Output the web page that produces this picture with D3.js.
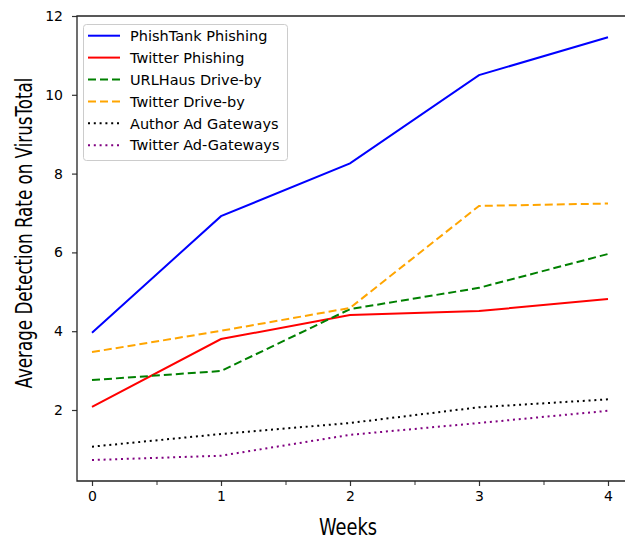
<!DOCTYPE html>
<html>
<head>
<meta charset="utf-8">
<script src="https://cdnjs.cloudflare.com/ajax/libs/d3/7.8.5/d3.min.js"></script>
<style>
  body { margin: 0; background: #fff; }
  svg { display: block; }
  text { font-family: "DejaVu Sans", sans-serif; fill: #000; }
</style>
</head>
<body>
<div id="chart"></div>
<script>
// weeks on the x axis
var weeks = [0, 1, 2, 3, 4];

// series values
var phishtankPhishing = [3.96, 6.92, 8.26, 10.5, 11.46];
var twitterPhishing   = [2.08, 3.80, 4.41, 4.51, 4.82];
var urlhausDriveby    = [2.76, 2.99, 4.56, 5.10, 5.96];
var twitterDriveby    = [3.47, 4.01, 4.59, 7.18, 7.24];
var authorAdGateways  = [1.07, 1.39, 1.67, 2.07, 2.27];
var twitterAdGateways = [0.73, 0.84, 1.37, 1.67, 1.98];

var seriesNames = ["PhishTank Phishing", "Twitter Phishing", "URLHaus Drive-by",
                   "Twitter Drive-by", "Author Ad Gateways", "Twitter Ad-Gateways"];
var seriesValues = [phishtankPhishing, twitterPhishing, urlhausDriveby,
                    twitterDriveby, authorAdGateways, twitterAdGateways];
var seriesColors = ["#0000ff", "#ff0000", "#008000", "#ffa500", "#000000", "#800080"];
var seriesDash = ["none", "none", "8,4", "8,4", "2,3.8", "2,3.8"];

var yTicks = [2, 4, 6, 8, 10, 12];
var xTicks = [0, 1, 2, 3, 4];
var xMinorTicks = [0.5, 1.5, 2.5, 3.5];

var W = 625, H = 540;
// plot frame (right edge falls outside the picture, as in the source)
var frameL = 77, frameR = 632, frameT = 16, frameB = 481;

var svg = d3.select("#chart").append("svg")
  .attr("width", W).attr("height", H);

var x = d3.scaleLinear().domain([0, 4]).range([92, 608]);
var y = d3.scaleLinear().domain([2, 12]).range([410, 16]);

// axes
var xAxis = d3.axisBottom(x).tickValues(xTicks).tickFormat(d3.format("d"))
  .tickSize(5).tickPadding(5);
var gx = svg.append("g").attr("transform", "translate(0," + frameB + ")").call(xAxis);
gx.select(".domain").remove();
gx.selectAll(".tick line").attr("stroke", "#333").attr("stroke-width", 1.2);
gx.selectAll("text").style("font-size", "14px").attr("dy", "0.71em");

var gxm = svg.append("g").attr("transform", "translate(0," + frameB + ")")
  .call(d3.axisBottom(x).tickValues(xMinorTicks).tickFormat("").tickSize(4));
gxm.select(".domain").remove();
gxm.selectAll(".tick line").attr("stroke", "#333").attr("stroke-width", 1);

var yAxis = d3.axisLeft(y).tickValues(yTicks).tickFormat(d3.format("d"))
  .tickSize(5).tickPadding(9);
var gy = svg.append("g").attr("transform", "translate(" + frameL + ",0)").call(yAxis);
gy.select(".domain").remove();
gy.selectAll(".tick line").attr("stroke", "#333").attr("stroke-width", 1.2);
gy.selectAll("text").style("font-size", "14px");

// spines
svg.append("path")
  .attr("d", "M" + frameR + "," + frameT + "H" + frameL + "V" + frameB + "H" + frameR)
  .attr("fill", "none").attr("stroke", "#222").attr("stroke-width", 1.3);

// lines
var lineGen = d3.line()
  .x(function(d, i) { return x(weeks[i]); })
  .y(function(d) { return y(d); });

seriesValues.forEach(function(vals, i) {
  svg.append("path")
    .datum(vals)
    .attr("d", lineGen)
    .attr("fill", "none")
    .attr("stroke", seriesColors[i])
    .attr("stroke-width", 2)
    .attr("stroke-dasharray", seriesDash[i]);
});

// legend
var lg = svg.append("g");
lg.append("rect")
  .attr("x", 83.5).attr("y", 24.5).attr("width", 204).attr("height", 136)
  .attr("rx", 3).attr("fill", "#fff").attr("stroke", "#ccc").attr("stroke-width", 1);
seriesNames.forEach(function(name, i) {
  var ry = 35.7 + i * 21.9;
  lg.append("line")
    .attr("x1", 88).attr("x2", 120).attr("y1", ry).attr("y2", ry)
    .attr("stroke", seriesColors[i]).attr("stroke-width", 2)
    .attr("stroke-dasharray", seriesDash[i]);
  lg.append("text")
    .attr("x", 130).attr("y", ry).attr("dy", "0.36em")
    .style("font-size", "14.5px")
    .text(name);
});

// axis titles, narrow as in the source figure
svg.append("text")
  .attr("x", 348).attr("y", 535)
  .attr("text-anchor", "middle")
  .attr("textLength", 58).attr("lengthAdjust", "spacingAndGlyphs")
  .style("font-size", "23px")
  .text("Weeks");

svg.append("text")
  .attr("transform", "translate(32,233) rotate(-90)")
  .attr("text-anchor", "middle")
  .attr("textLength", 311).attr("lengthAdjust", "spacingAndGlyphs")
  .style("font-size", "23px")
  .text("Average Detection Rate on VirusTotal");
</script>
</body>
</html>
